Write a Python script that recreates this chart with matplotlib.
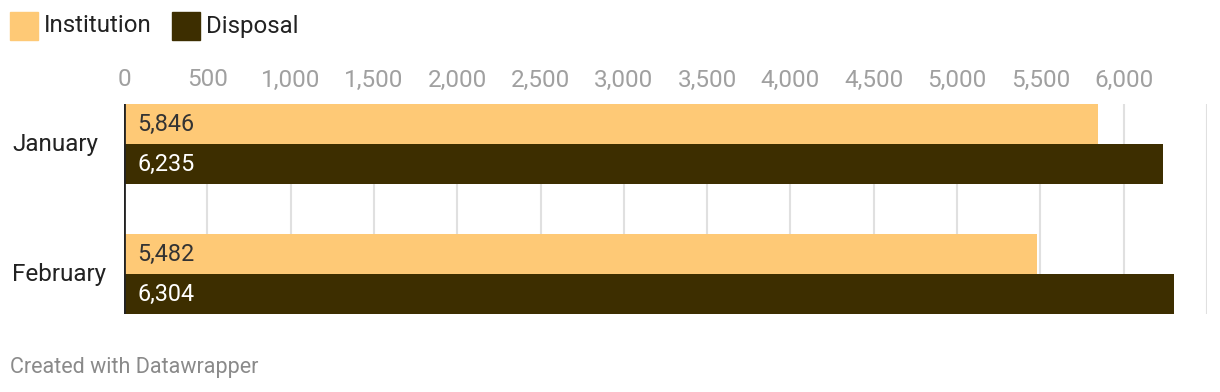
import matplotlib
matplotlib.use('Agg')
import matplotlib.pyplot as plt
from matplotlib.patches import Rectangle
from matplotlib.transforms import blended_transform_factory
import numpy as np

plt.rcParams['font.family'] = ['Roboto', 'DejaVu Sans']

months = ['January', 'February']
series_names = ['Institution', 'Disposal']
institution = [5846, 5482]
disposal = [6235, 6304]
ticks = [0, 500, 1000, 1500, 2000, 2500, 3000, 3500, 4000, 4500, 5000, 5500, 6000]

light = '#fec976'
dark = '#3d2e00'

W, H = 1220, 392
fig = plt.figure(figsize=(W / 100, H / 100), dpi=100)

# axes placed in pixel coords
x0, x1 = 124, 1207
y0, y1 = 104, 314
ax = fig.add_axes([x0 / W, 1 - y1 / H, (x1 - x0) / W, (y1 - y0) / H])

pos = np.arange(len(months))
h = 40 / 130
ax.barh(pos - h / 2, institution, height=h, color=light, zorder=2)
ax.barh(pos + h / 2, disposal, height=h, color=dark, zorder=2)

for p, v in zip(pos, institution):
    ax.text(80, p - h / 2, '{:,}'.format(v), va='center', ha='left',
            fontsize=16.8, color='#333333', zorder=3)
for p, v in zip(pos, disposal):
    ax.text(80, p + h / 2, '{:,}'.format(v), va='center', ha='left',
            fontsize=16.8, color='white', zorder=3)

for t in ticks[1:] + [6500]:
    ax.axvline(t, color='#e0e0e0', lw=1.5, zorder=1)
ax.axvline(0, color='#222222', lw=2, zorder=4)

ax.set_xticks(ticks)
ax.set_xticklabels(['{:,}'.format(t) for t in ticks])
ax.xaxis.tick_top()
ax.tick_params(axis='x', length=0, pad=9, labelsize=17.5, labelcolor='#a0a0a0')
ax.set_yticks([])

# month labels left aligned at the figure edge
trans = blended_transform_factory(fig.transFigure, ax.transData)
for p, m in zip(pos, months):
    ax.text(12 / W, p, m, transform=trans, va='center', ha='left',
            fontsize=17.5, color='#222222')

ax.set_xlim(0, 6500)
ax.set_ylim(1 + h, -h)
for s in ax.spines.values():
    s.set_visible(False)

# legend
for sx, tx, name, c in [(10, 44, series_names[0], light), (172, 206, series_names[1], dark)]:
    fig.patches.append(Rectangle((sx / W, 1 - 40 / H), 28 / W, 28 / H,
                                 transform=fig.transFigure, color=c))
    fig.text(tx / W, 1 - 26 / H, name, va='center', ha='left',
             fontsize=17.3, color='#222222')

fig.text(10 / W, 1 - 367 / H, 'Created with Datawrapper', va='center', ha='left',
         fontsize=15.5, color='#8a8a8a')

fig.savefig('out.png', dpi=100)
